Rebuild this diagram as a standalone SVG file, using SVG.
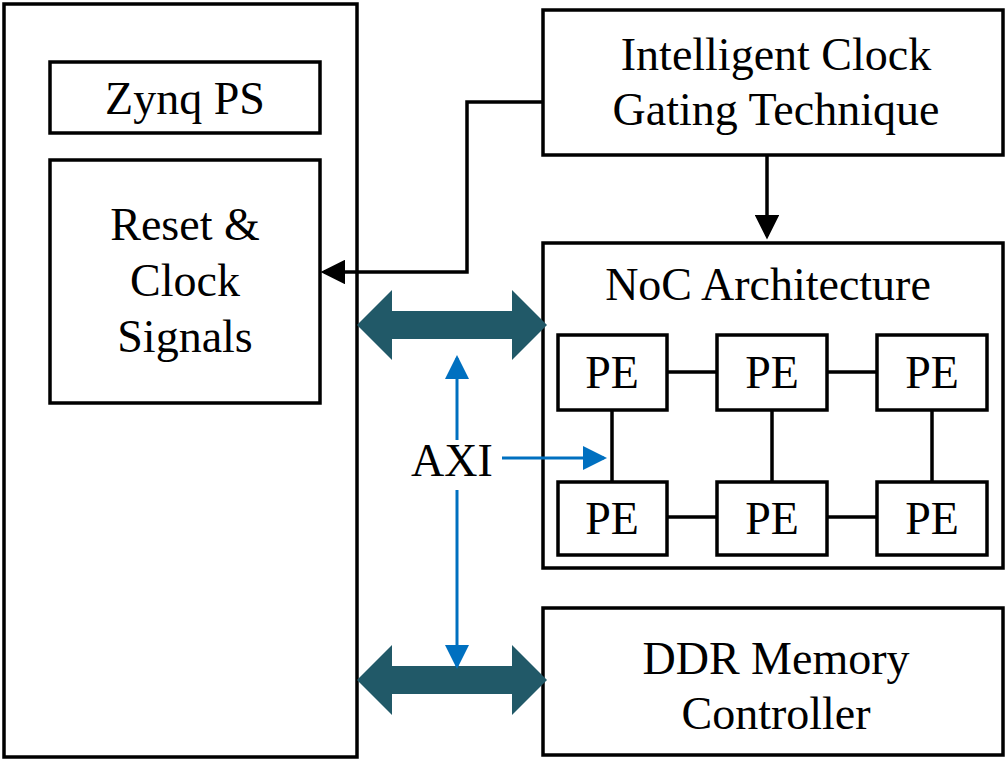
<svg xmlns="http://www.w3.org/2000/svg" width="1008" height="761" viewBox="0 0 1008 761">
<style>
rect{fill:#fff;stroke:#000;stroke-width:3.5}
text{font-family:"Liberation Serif","Times New Roman",serif;font-size:46px;text-anchor:middle;fill:#000}
.k{stroke:#000;stroke-width:3.5;fill:none}
.b{stroke:#0070C0;stroke-width:3;fill:none}
.t{fill:#215968}
</style>
<defs>
<marker id="ab" markerWidth="8" markerHeight="8" refX="7" refY="4" orient="auto" viewBox="0 0 8 8" markerUnits="strokeWidth"><path d="M0,0L8,4L0,8Z" fill="#0070C0"/></marker>
<marker id="ak2" markerWidth="7" markerHeight="7" refX="6" refY="3.5" orient="auto" viewBox="0 0 7 7" markerUnits="strokeWidth"><path d="M0,0L7,3.5L0,7Z" fill="#000"/></marker>
</defs>
<g id="ps"><rect x="4" y="4" width="353" height="753"/></g>
<g id="zynq"><rect x="50" y="62" width="270" height="71"/><text x="185" y="114">Zynq PS</text></g>
<g id="reset"><rect x="50" y="160" width="270" height="243"/><text x="185" y="240">Reset &amp;</text><text x="185" y="296">Clock</text><text x="185" y="352">Signals</text></g>
<g id="icg"><rect x="543" y="10" width="460" height="145"/><text x="776" y="70">Intelligent Clock</text><text x="776" y="125">Gating Technique</text></g>
<g id="noc"><rect x="543" y="243" width="460" height="325"/><text x="768" y="300">NoC Architecture</text></g>
<g id="pe1"><rect x="558" y="335" width="109" height="75"/><text x="612" y="388">PE</text></g>
<g id="pe2"><rect x="717" y="335" width="110" height="75"/><text x="772" y="388">PE</text></g>
<g id="pe3"><rect x="877" y="335" width="110" height="75"/><text x="932" y="388">PE</text></g>
<g id="pe4"><rect x="558" y="482" width="109" height="73"/><text x="612" y="534">PE</text></g>
<g id="pe5"><rect x="717" y="482" width="110" height="73"/><text x="772" y="534">PE</text></g>
<g id="pe6"><rect x="877" y="482" width="110" height="73"/><text x="932" y="534">PE</text></g>
<g id="ddr"><rect x="543" y="608" width="460" height="147"/><text x="776" y="674">DDR Memory</text><text x="776" y="729">Controller</text></g>
<g id="axi"><text x="452" y="476">AXI</text></g>
<g id="connectors">
<path class="k" d="M667,372H717M827,372H877M667,517H717M827,517H877M612,410V482M772,410V482M932,410V482"/>
<path class="k" d="M543,102H467V272H324" marker-end="url(#ak2)"/>
<path class="k" d="M767,155V236" marker-end="url(#ak2)"/>
<path class="t" d="M357,325L392,290V311H512V290L547,325L512,360V339H392V360Z"/>
<path class="t" d="M357,680L392,645V666H512V645L547,680L512,715V694H392V715Z"/>
<path class="b" d="M457,440V358" marker-end="url(#ab)"/>
<path class="b" d="M457,490V666" marker-end="url(#ab)"/>
<path class="b" d="M502,458H604" marker-end="url(#ab)"/>
</g>
</svg>
